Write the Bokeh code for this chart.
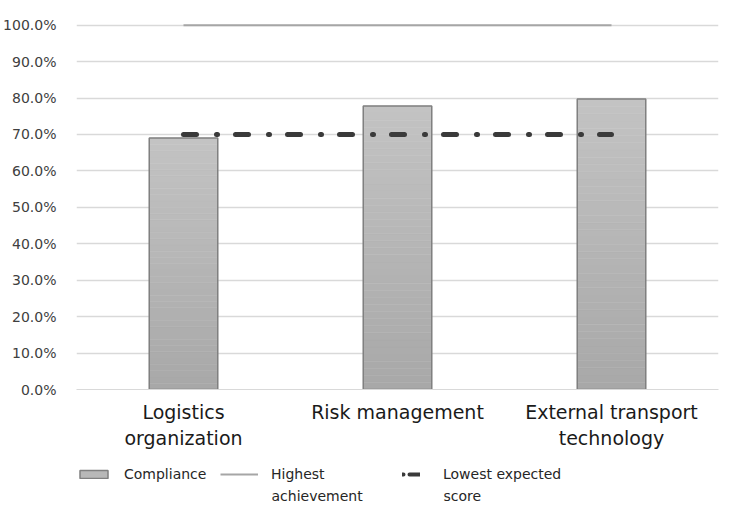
from bokeh.plotting import figure
from bokeh.layouts import column
from bokeh.models import (FactorRange, Range1d, FixedTicker, NumeralTickFormatter,
                          Legend, LegendItem, Label)
from bokeh.embed import file_html
from bokeh.resources import INLINE

# ---- data ----
categories = ["Logistics\norganization", "Risk management", "External transport\ntechnology"]
compliance = [0.69, 0.778, 0.797]
highest_achievement = [1.0, 1.0, 1.0]
lowest_expected = [0.70, 0.70, 0.70]
y_ticks = [0.0, 0.1, 0.2, 0.3, 0.4, 0.5, 0.6, 0.7, 0.8, 0.9, 1.0]
legend_first = ["Compliance", "Highest", "Lowest expected"]
legend_second = ["", "achievement", "score"]

FONT = "DejaVu Sans"
BAR_LINE = "#808080"
HI_COLOR = "#a6a6a6"
LO_COLOR = "#3a3a3a"
LO_DASH = "13 20 1 18"
LEFT = 76
W = 720

p = figure(width=W, height=455, output_backend="svg", toolbar_location=None,
           x_range=FactorRange(*categories, range_padding=0),
           y_range=Range1d(0, 1.01),
           min_border_left=LEFT, min_border_right=2, min_border_top=21,
           min_border_bottom=66)
p.outline_line_color = None

# gradient bands (light at top, darker at bottom)
n = 40
c_bot = (0xa8, 0xa8, 0xa8)
c_top = (0xc3, 0xc3, 0xc3)
bx, bb, bt, bc = [], [], [], []
for cat, v in zip(categories, compliance):
    for i in range(n):
        f = (i + 0.5) / n
        col = tuple(int(round(c_bot[k] + (c_top[k] - c_bot[k]) * f)) for k in range(3))
        bx.append(cat)
        bb.append(v * i / n)
        bt.append(v * (i + 1) / n)
        bc.append("#%02x%02x%02x" % col)
p.vbar(x=bx, bottom=bb, top=bt, width=0.32, fill_color=bc, line_color=bc, line_width=0.5)
# outline on top
p.vbar(x=categories, top=compliance, width=0.32, fill_color=None,
       line_color=BAR_LINE, line_width=1.5)

p.line(x=categories, y=highest_achievement, line_color=HI_COLOR, line_width=2)
p.line(x=categories, y=lowest_expected, line_color=LO_COLOR, line_width=5,
       line_dash=LO_DASH, line_cap="round")

# axes
p.yaxis.ticker = FixedTicker(ticks=y_ticks)
p.yaxis.formatter = NumeralTickFormatter(format="0.0%")
p.yaxis.axis_line_color = None
p.yaxis.major_tick_line_color = None
p.yaxis.minor_tick_line_color = None
p.yaxis.major_label_text_font = FONT
p.yaxis.major_label_text_font_size = "14px"
p.yaxis.major_label_text_color = "#404040"
p.yaxis.major_label_standoff = 14

p.xaxis.axis_line_color = "#d9d9d9"
p.xaxis.major_tick_line_color = None
p.xaxis.minor_tick_line_color = None
p.xaxis.major_label_text_font = FONT
p.xaxis.major_label_text_font_size = "19px"
p.xaxis.major_label_text_color = "#1a1a1a"
p.xaxis.major_label_standoff = 5
p.xaxis.major_label_text_line_height = 1.2

p.xgrid.grid_line_color = None
p.ygrid.grid_line_color = "#d9d9d9"
p.ygrid.grid_line_width = 1.5

# ---- legend strip ----
lf = figure(width=W, height=54, output_backend="svg", toolbar_location=None,
            x_range=Range1d(LEFT, W - 2), y_range=Range1d(0, 54),
            x_axis_location=None, y_axis_location=None,
            min_border=0, min_border_left=LEFT, min_border_right=2,
            min_border_top=0, min_border_bottom=0)
lf.grid.visible = False
lf.outline_line_color = None

nan = float("nan")
r_bar = lf.vbar(x=[nan], top=[nan], width=0.32, fill_color="#b8b8b8",
                line_color=BAR_LINE, line_width=1.5)
r_hi = lf.line(x=[nan, nan], y=[nan, nan], line_color=HI_COLOR, line_width=2)
r_lo = lf.line(x=[nan, nan], y=[nan, nan], line_color=LO_COLOR, line_width=4,
               line_dash="1 6 10 4", line_cap="round")

def add_leg(label, rend, x, gw, standoff):
    leg = Legend(items=[LegendItem(label=label, renderers=[rend])],
                 location=(x, 27), orientation="horizontal",
                 glyph_width=gw, glyph_height=10, label_standoff=standoff,
                 padding=0, margin=0, border_line_color=None,
                 background_fill_alpha=0, label_text_font=FONT,
                 label_text_font_size="14px", label_text_color="#262626")
    lf.add_layout(leg, "center")

add_leg(legend_first[0], r_bar, 0, 35, 13)
add_leg(legend_first[1], r_hi, 144, 38, 13)
add_leg(legend_first[2], r_lo, 326, 18, 23)

for txt, xx in zip(legend_second, [124, 271, 443]):
    if txt:
        lf.add_layout(Label(x=xx, y=14, text=txt, text_font=FONT,
                            text_font_size="14px", text_color="#262626",
                            text_baseline="middle", text_align="left"))

layout = column(p, lf, spacing=0)
open("out.html", "w").write(file_html(layout, INLINE))
